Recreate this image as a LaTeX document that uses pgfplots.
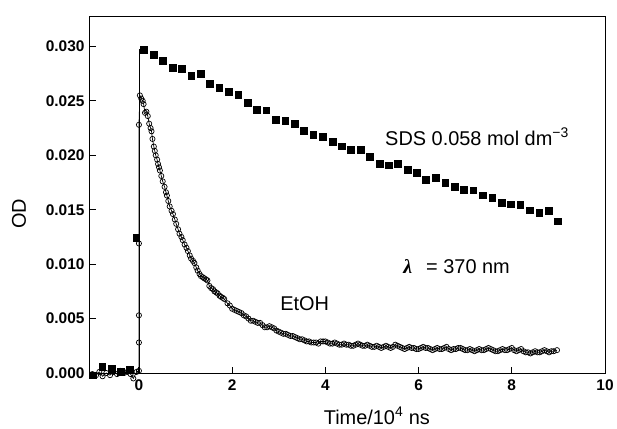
\documentclass[border=0pt]{standalone}
\usepackage{pgfplots}
\pgfplotsset{compat=1.18}
\usepackage{fontspec}
\setmainfont{Liberation Sans}
\newfontfamily\seriffont{Liberation Serif}

% SDS 0.058 mol dm-3 (filled squares)
\pgfplotstableread{
t od
-1.00 -0.0002
-0.79 0.00058
-0.58 0.00037
-0.39 0.00012
-0.19 0.00028
-0.06 0.01245
0.11 0.02970
0.31 0.02927
0.51 0.02865
0.72 0.02805
0.92 0.02795
1.12 0.02728
1.32 0.02750
1.52 0.02658
1.72 0.02617
1.93 0.02587
2.13 0.02556
2.33 0.02483
2.53 0.02422
2.73 0.02413
2.94 0.02330
3.14 0.02315
3.34 0.02291
3.54 0.02222
3.74 0.02190
3.94 0.02174
4.15 0.02122
4.35 0.02083
4.55 0.02052
4.75 0.02052
4.95 0.01984
5.16 0.01924
5.36 0.01908
5.56 0.01924
5.76 0.01869
5.96 0.01838
6.16 0.01777
6.37 0.01792
6.57 0.01746
6.77 0.01709
6.97 0.01685
7.17 0.01679
7.37 0.01633
7.58 0.01612
7.78 0.01562
7.98 0.01550
8.18 0.01548
8.38 0.01495
8.59 0.01471
8.79 0.01489
8.99 0.01394
}\sds

% EtOH (open circles)
\pgfplotstableread{
t od
-1.00 -0.0001
-0.92 -0.0002
-0.85 0.0001
-0.78 -0.0003
-0.70 0.0000
-0.62 -0.0002
-0.55 0.0001
-0.47 -0.0001
-0.40 0.0002
-0.32 0.0000
-0.25 0.0001
-0.18 -0.0001
-0.12 -0.0005
-0.05 0.0001
0.00 0.0002
0.00 0.0028
0.00 0.0053
0.00 0.0119
0.00 0.0228
0.02 0.0255
0.05 0.0252
0.08 0.0250
0.10 0.0247
0.13 0.0239
0.16 0.0240
0.19 0.0236
0.22 0.0229
0.25 0.0225
0.27 0.0222
0.29 0.0215
0.32 0.0208
0.34 0.0204
0.36 0.0200
0.39 0.0196
0.41 0.0192
0.43 0.0189
0.45 0.0186
0.48 0.0181
0.51 0.0176
0.55 0.0171
0.58 0.0166
0.60 0.0163
0.63 0.0158
0.66 0.0153
0.70 0.0149
0.73 0.0146
0.77 0.0141
0.80 0.0137
0.84 0.0132
0.87 0.0128
0.91 0.0125
0.94 0.0122
0.98 0.0118
1.02 0.0115
1.05 0.0112
1.09 0.0108
1.12 0.0105
1.16 0.0103
1.19 0.0101
1.23 0.0097
1.26 0.0094
1.30 0.0091
1.33 0.0089
1.37 0.0088
1.40 0.0087
1.44 0.0086
1.47 0.0085
1.51 0.0080
1.55 0.0078
1.59 0.0077
1.62 0.0075
1.66 0.0074
1.69 0.0073
1.73 0.0071
1.76 0.0070
1.80 0.0069
1.83 0.0068
1.90 0.0064
1.95 0.0062
2.00 0.0059
2.05 0.0058
2.10 0.0057
2.15 0.0056
2.20 0.0055
2.25 0.0053
2.30 0.0052
2.35 0.0050
2.40 0.0048
2.45 0.0048
2.50 0.0047
2.55 0.0046
2.60 0.0046
2.65 0.0044
2.70 0.0042
2.75 0.0042
2.80 0.0043
2.85 0.0042
2.90 0.0041
2.95 0.0039
3.00 0.0038
3.05 0.0037
3.10 0.0036
3.15 0.0036
3.20 0.0035
3.25 0.0034
3.30 0.0034
3.35 0.0033
3.40 0.0032
3.45 0.0031
3.50 0.0031
3.55 0.0030
3.60 0.0029
3.65 0.0029
3.70 0.0028
3.75 0.0028
3.80 0.0028
3.85 0.0027
3.90 0.0029
3.95 0.0029
4.00 0.0029
4.05 0.0028
4.10 0.0027
4.15 0.0027
4.20 0.0028
4.25 0.0027
4.30 0.0026
4.35 0.0026
4.40 0.0027
4.45 0.0026
4.50 0.0026
4.55 0.0025
4.60 0.0025
4.65 0.0026
4.70 0.0027
4.75 0.0026
4.80 0.0025
4.85 0.0025
4.90 0.0026
4.95 0.0025
5.00 0.0024
5.05 0.0024
5.10 0.0025
5.15 0.0024
5.20 0.0023
5.25 0.0024
5.30 0.0025
5.35 0.0024
5.40 0.0023
5.45 0.0024
5.50 0.0026
5.55 0.0025
5.60 0.0024
5.65 0.0023
5.70 0.0022
5.75 0.0023
5.80 0.0024
5.85 0.0023
5.90 0.0023
5.95 0.0022
6.00 0.0022
6.05 0.0023
6.10 0.0024
6.15 0.0023
6.20 0.0023
6.25 0.0022
6.30 0.0021
6.35 0.0022
6.40 0.0023
6.45 0.0022
6.50 0.0022
6.55 0.0023
6.60 0.0024
6.65 0.0022
6.70 0.0021
6.75 0.0022
6.80 0.0022
6.85 0.0023
6.90 0.0023
6.95 0.0022
7.00 0.0021
7.05 0.0021
7.10 0.0022
7.15 0.0021
7.20 0.0020
7.25 0.0021
7.30 0.0022
7.35 0.0021
7.40 0.0021
7.45 0.0022
7.50 0.0023
7.55 0.0022
7.60 0.0021
7.65 0.0020
7.70 0.0020
7.75 0.0021
7.80 0.0022
7.85 0.0021
7.90 0.0021
7.95 0.0022
8.00 0.0023
8.05 0.0021
8.10 0.0020
8.15 0.0021
8.20 0.0022
8.25 0.0020
8.30 0.0019
8.35 0.0019
8.40 0.0018
8.45 0.0019
8.50 0.0020
8.55 0.0019
8.60 0.0019
8.65 0.0020
8.70 0.0021
8.75 0.0020
8.80 0.0019
8.85 0.0020
8.90 0.0020
8.97 0.0021
}\etoh

\begin{document}
\begin{tikzpicture}
\begin{axis}[
    name=ax,
    scale only axis,
    width=515bp, height=356bp,
    xmin=-1.05, xmax=10,
    ymin=0, ymax=0.0327,
    clip=false,
    scaled y ticks=false,
    axis line style={line width=1pt},
    tick align=inside,
    xtick pos=bottom, ytick pos=left,
    major tick length=6bp,
    tick style={line width=0.9pt, black},
    xtick={0,2,4,6,8,10},
    xticklabels={0,2,4,6,8,10},
    ytick={0,0.005,0.01,0.015,0.02,0.025,0.03},
    yticklabels={0.000,0.005,0.010,0.015,0.020,0.025,0.030},
    ticklabel style={font=\fontsize{15.5}{18}\selectfont\bfseries},
    xticklabel style={yshift=-3bp},
    yticklabel style={xshift=-2bp},
    xlabel={Time/10\textsuperscript{4} ns},
    ylabel={OD},
    label style={font=\fontsize{20}{24}\selectfont},
    xlabel style={at={(axis description cs:0.557,-0.144)}, anchor=base},
    ylabel style={at={(axis description cs:-0.138,0.447)}, anchor=center},
]
\addplot[black, line width=0.8pt] coordinates {(0,0) (0,0.0298)};
\addplot[black, line width=0.7pt, mark=o, mark size=2.6bp,
    mark options={fill=white, line width=0.7pt}] table[x=t, y=od] {\etoh};
\addplot[only marks, mark=square*, mark size=3.4bp, black] table[x=t, y=od] {\sds};

\node[anchor=base west, inner sep=0, font=\fontsize{20}{24}\selectfont]
    at (axis cs:5.28,0.0209) {SDS 0.058 mol dm\textsuperscript{−3}};
\node[anchor=base west, inner sep=0, font=\fontsize{20}{24}\selectfont]
    at (axis cs:5.67,0.00915) {{\seriffont\bfseries\itshape λ}\hspace{0.7em}= 370 nm};
\node[anchor=base west, inner sep=0, font=\fontsize{20}{24}\selectfont]
    at (axis cs:3.03,0.00572) {EtOH};
\end{axis}
\pgfresetboundingbox
\path (ax.south west) ++(-90bp,-56bp) rectangle ++(617bp,429bp);
\end{tikzpicture}
\end{document}
